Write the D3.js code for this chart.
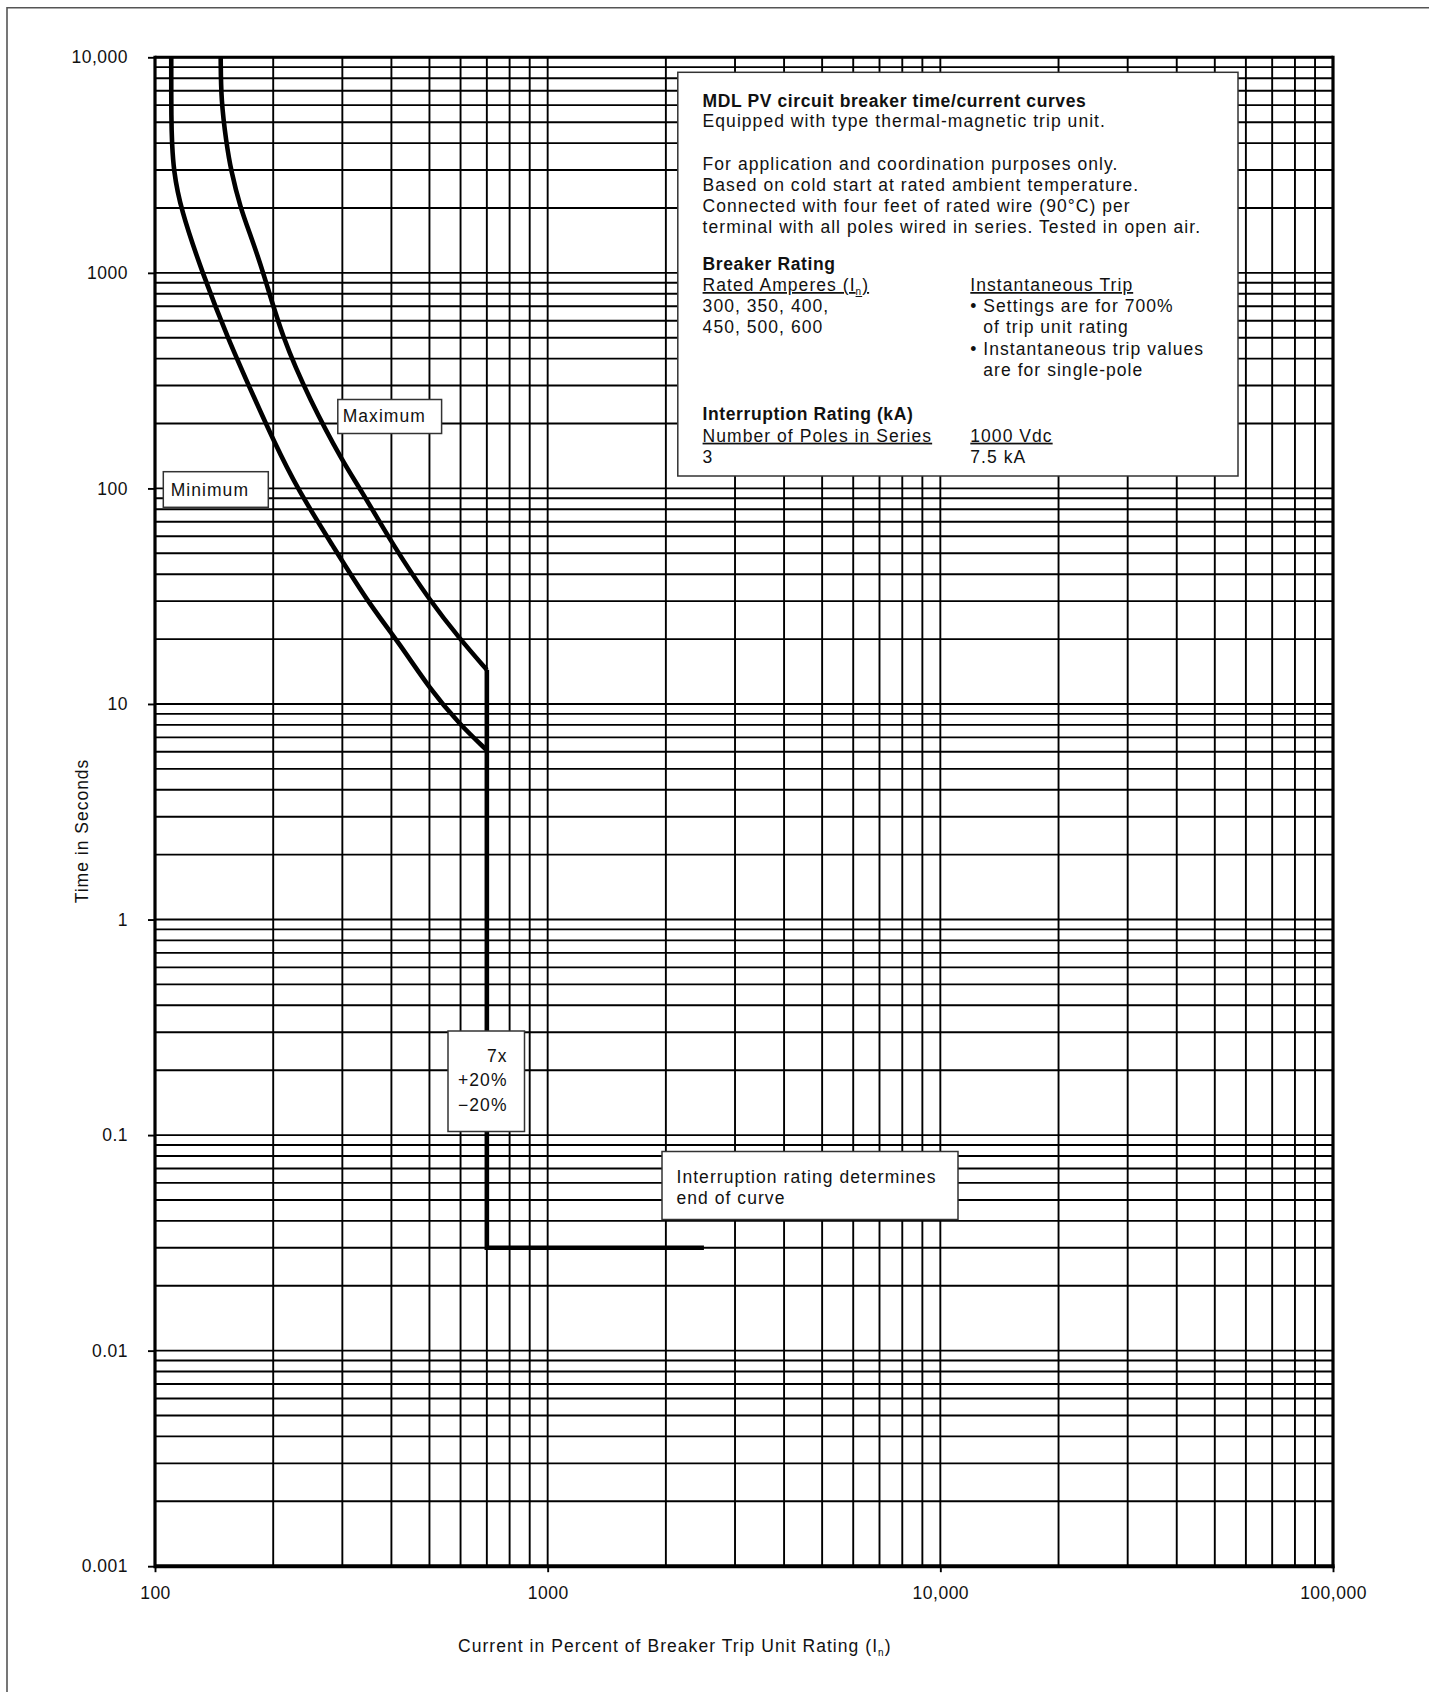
<!DOCTYPE html>
<html>
<head>
<meta charset="utf-8">
<script src="https://cdn.jsdelivr.net/npm/d3@7"></script>
<style>
    body { margin: 0; background: #fff; }
    svg text { font-family: "Liberation Sans", Arial, sans-serif; fill: #111; }
</style>
</head>
<body>
<div id="chart"></div>
<script>
// tick values and labels
var yTickValues = [0.001, 0.01, 0.1, 1, 10, 100, 1000, 10000];
var yTickLabels = ["0.001", "0.01", "0.1", "1", "10", "100", "1000", "10,000"];
var xTickValues = [100, 1000, 10000, 100000];
var xTickLabels = ["100", "1000", "10,000", "100,000"];

// curves: [current %, seconds]
var minCurve = [[110, 10000], [110, 5000], [110.5, 4000], [111.5, 3000], [116, 2000], [132, 1000],
    [153, 500], [180, 257], [200, 168], [230, 100], [284, 54], [347, 30], [420, 19], [500, 11.8], [598, 8], [700, 6.1]];
var maxCurve = [[147, 10000], [147.3, 6300], [152, 4000], [156, 3000], [165, 2000], [175, 1500], [189, 1000],
    [211, 500], [248, 257], [302, 131], [333, 100], [405, 54], [502, 30], [598, 20], [700, 14.4]];
var instTrip = [[700, 14.4], [700, 0.03], [2500, 0.03]];

var width = 1429, height = 1692;
var plotL = 155, plotR = 1333, plotT = 57.3, plotB = 1566.2;
var font = 17.5;

var svg = d3.select("#chart").append("svg")
    .attr("width", width)
    .attr("height", height);

svg.append("rect").attr("width", width).attr("height", height).attr("fill", "#fff");

// page border (left + top only)
svg.append("path")
    .attr("d", "M7," + height + "V7.7H" + width)
    .attr("fill", "none")
    .attr("stroke", "#555")
    .attr("stroke-width", 1.6);

var x = d3.scaleLog().domain([100, 100000]).range([plotL, plotR]);
var y = d3.scaleLog().domain([0.001, 10000]).range([plotB, plotT]);

// grid
var grid = svg.append("g").attr("id", "grid");
grid.selectAll("line.v")
    .data(x.ticks())
    .enter()
    .append("line")
    .attr("class", "v")
    .attr("x1", function (d) { return x(d); })
    .attr("x2", function (d) { return x(d); })
    .attr("y1", plotT)
    .attr("y2", plotB)
    .attr("stroke", "#000")
    .attr("stroke-width", 1.9);
grid.selectAll("line.h")
    .data(y.ticks())
    .enter()
    .append("line")
    .attr("class", "h")
    .attr("x1", plotL)
    .attr("x2", plotR)
    .attr("y1", function (d) { return y(d); })
    .attr("y2", function (d) { return y(d); })
    .attr("stroke", "#000")
    .attr("stroke-width", 1.9);

// axes
var yAxis = d3.axisLeft(y)
    .tickValues(yTickValues)
    .tickSize(7)
    .tickPadding(20)
    .tickFormat(function (d, i) { return yTickLabels[i]; });
var xAxis = d3.axisBottom(x)
    .tickValues(xTickValues)
    .tickSize(6)
    .tickPadding(14)
    .tickFormat(function (d, i) { return xTickLabels[i]; });

var gy = svg.append("g").attr("transform", "translate(" + plotL + ",0)").call(yAxis);
var gx = svg.append("g").attr("transform", "translate(0," + plotB + ")").call(xAxis);
[gy, gx].forEach(function (g) {
    g.select(".domain").remove();
    g.selectAll(".tick line").attr("stroke", "#000").attr("stroke-width", 1.9);
    g.selectAll(".tick text")
        .attr("font-size", font)
        .attr("letter-spacing", 0.5)
        .attr("fill", "#111");
});
gx.selectAll(".tick text").attr("dy", "0.71em");

// plot frame
svg.append("line").attr("x1", plotL).attr("x2", plotL).attr("y1", plotT - 1.5).attr("y2", plotB + 2)
    .attr("stroke", "#000").attr("stroke-width", 3.2);
svg.append("line").attr("x1", plotR).attr("x2", plotR).attr("y1", plotT - 1.5).attr("y2", plotB + 2)
    .attr("stroke", "#000").attr("stroke-width", 3.2);
svg.append("line").attr("x1", plotL).attr("x2", plotR).attr("y1", plotT).attr("y2", plotT)
    .attr("stroke", "#000").attr("stroke-width", 3);
svg.append("line").attr("x1", plotL).attr("x2", plotR + 1.5).attr("y1", plotB).attr("y2", plotB)
    .attr("stroke", "#000").attr("stroke-width", 4);

// curves
var line = d3.line()
    .x(function (d) { return x(d[0]); })
    .y(function (d) { return y(d[1]); });
var smooth = d3.line()
    .x(function (d) { return x(d[0]); })
    .y(function (d) { return y(d[1]); })
    .curve(d3.curveBasis);

svg.append("g").attr("id", "curves")
    .selectAll("path")
    .data([minCurve, maxCurve])
    .enter()
    .append("path")
    .attr("d", function (d) { return smooth(d); })
    .attr("fill", "none")
    .attr("stroke", "#000")
    .attr("stroke-width", 4.6)
    .attr("stroke-linejoin", "round");
svg.append("path")
    .attr("d", line(instTrip))
    .attr("fill", "none")
    .attr("stroke", "#000")
    .attr("stroke-width", 4.6)
    .attr("stroke-linejoin", "miter");

// label boxes
function box(x0, y0, x1, y1) {
    return svg.append("rect")
        .attr("x", x0).attr("y", y0)
        .attr("width", x1 - x0).attr("height", y1 - y0)
        .attr("fill", "#fff")
        .attr("stroke", "#333")
        .attr("stroke-width", 1.5);
}
function txt(tx, ty, s, opts) {
    opts = opts || {};
    return svg.append("text")
        .attr("x", tx).attr("y", ty)
        .attr("font-size", opts.size || font)
        .attr("font-weight", opts.bold ? "bold" : null)
        .attr("letter-spacing", opts.ls !== undefined ? opts.ls : 1.05)
        .attr("text-anchor", opts.anchor || "start")
        .style("text-decoration", opts.under ? "underline" : null)
        .text(s);
}

box(337.8, 399.5, 441.6, 433.5);
txt(342.7, 421.7, "Maximum");
box(163.3, 471.7, 268.3, 507.3);
txt(170.7, 495.7, "Minimum");

box(448, 1031, 524.5, 1131.5);
txt(507.5, 1061.7, "7x", { anchor: "end" });
txt(507.5, 1086, "+20%", { anchor: "end" });
txt(507.5, 1110.5, "\u221220%", { anchor: "end" });

box(662, 1151.5, 958, 1219.5);
txt(676.5, 1182.5, "Interruption rating determines");
txt(676.5, 1204, "end of curve");

// info box
box(677.8, 72.3, 1238, 476);
var c1 = 702.6, c2 = 970.3;
txt(c1, 106.7, "MDL PV circuit breaker time/current curves", { bold: true, ls: 0.6 });
txt(c1, 126.7, "Equipped with type thermal-magnetic trip unit.");
txt(c1, 170, "For application and coordination purposes only.");
txt(c1, 191, "Based on cold start at rated ambient temperature.");
txt(c1, 211.7, "Connected with four feet of rated wire (90\u00B0C) per");
txt(c1, 232.7, "terminal with all poles wired in series. Tested in open air.");
txt(c1, 270, "Breaker Rating", { bold: true, ls: 0.6 });
var ra = txt(c1, 291, "Rated Amperes (I", { under: true });
ra.append("tspan").attr("font-size", 10).attr("dy", 4).text("n");
ra.append("tspan").attr("dy", -4).text(")");
txt(c1, 312, "300, 350, 400,");
txt(c1, 333, "450, 500, 600");
txt(c2, 291, "Instantaneous Trip", { under: true });
txt(c2, 312, "\u2022");
txt(c2 + 13, 312, "Settings are for 700%");
txt(c2 + 13, 333, "of trip unit rating");
txt(c2, 355, "\u2022");
txt(c2 + 13, 355, "Instantaneous trip values");
txt(c2 + 13, 376, "are for single-pole");
txt(c1, 420, "Interruption Rating (kA)", { bold: true, ls: 0.6 });
txt(c1, 441.7, "Number of Poles in Series", { under: true });
txt(c1, 462.7, "3");
txt(c2, 441.7, "1000 Vdc", { under: true });
txt(c2, 462.7, "7.5 kA");

// axis titles
var xt = txt(458, 1651.7, "Current in Percent of Breaker Trip Unit Rating (I");
xt.append("tspan").attr("font-size", 10).attr("dy", 4).text("n");
xt.append("tspan").attr("dy", -4).text(")");

svg.append("text")
    .attr("transform", "translate(88,831) rotate(-90)")
    .attr("text-anchor", "middle")
    .attr("font-size", font)
    .attr("letter-spacing", 1)
    .text("Time in Seconds");
</script>
</body>
</html>
